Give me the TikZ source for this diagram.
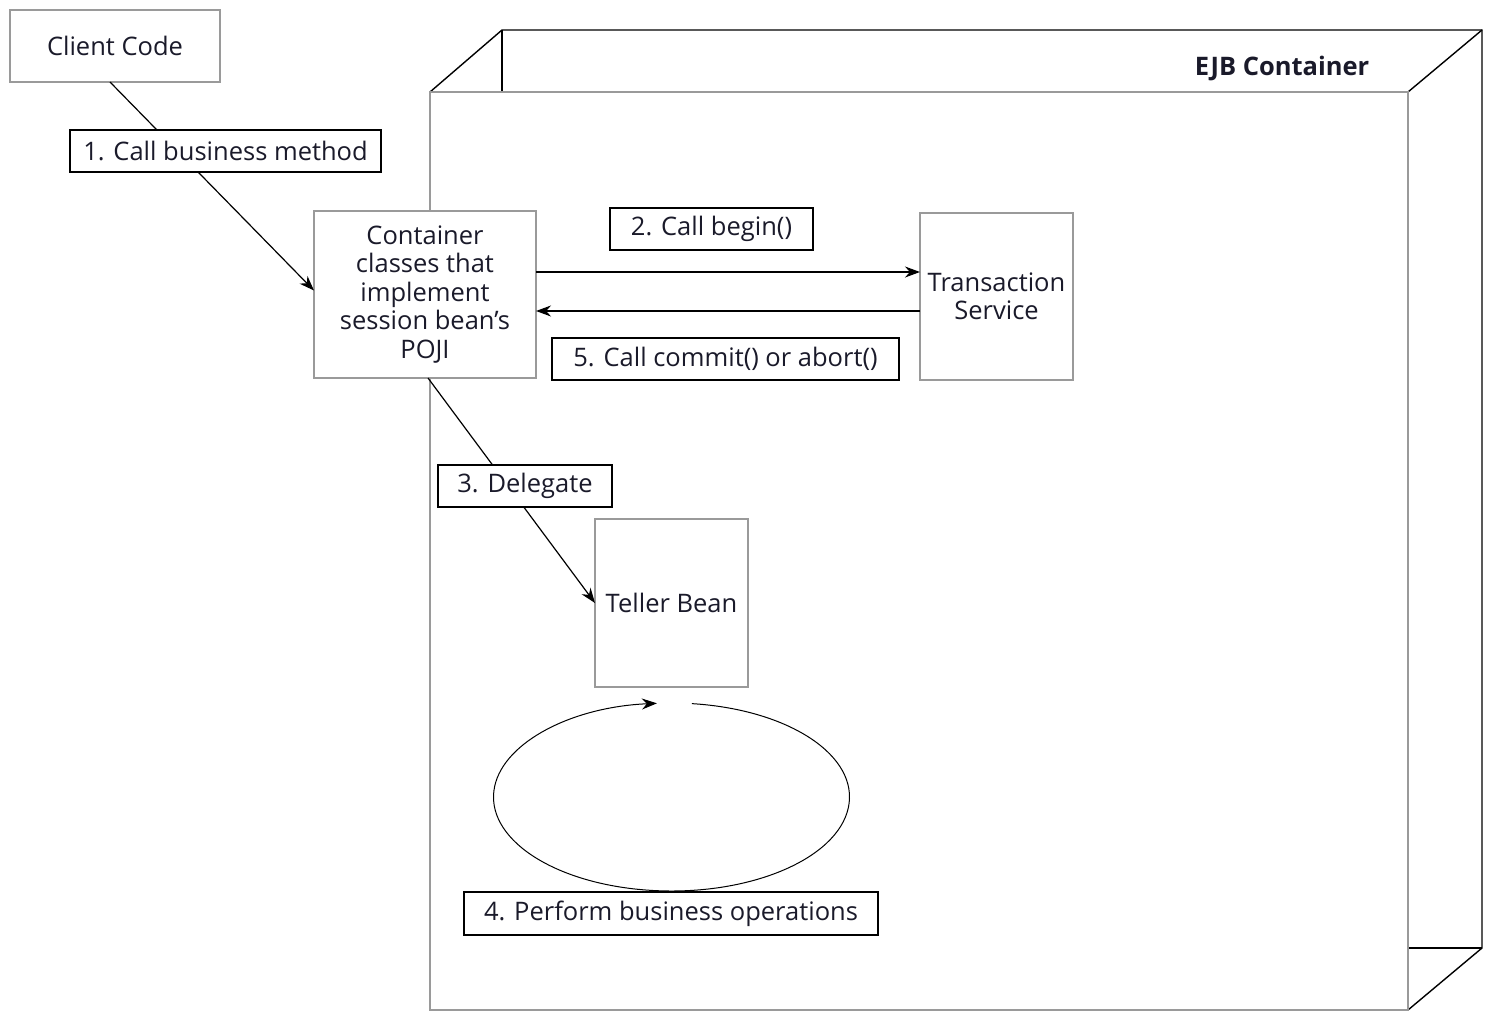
\documentclass[tikz,border=0pt]{standalone}
\usepackage{fontspec}
\setmainfont{Open Sans}
\usetikzlibrary{arrows.meta,calc}
\definecolor{boxgray}{HTML}{9A9A9A}
\definecolor{txt}{HTML}{1A1A2A}
\begin{document}
\begin{tikzpicture}[x=1pt,y=-1pt,
  every node/.style={inner sep=0pt,outer sep=0pt,text=txt,font=\fontsize{25.5}{28.5}\selectfont},
  graybox/.style={draw=boxgray,line width=2pt,fill=white,align=center},
  labelbox/.style={draw=black,line width=1.6pt,fill=white},
  conn/.style={draw=black,line width=1.2pt},
  tip/.style={-{Stealth[length=15pt,width=11pt]}},
  frontedge/.style={draw=boxgray,line width=2pt},
  backedge/.style={draw=black,line width=1.4pt}]
\useasboundingbox (0,0) rectangle (1500,1012);
\fill[white] (0,0) rectangle (1500,1012);
% EJB container cube
\coordinate (fa) at (430,92);
\coordinate (fb) at (1408,92);
\coordinate (fc) at (1408,1010);
\coordinate (fd) at (430,1010);
\coordinate (ba) at (502,30);
\coordinate (bb) at (1482,30);
\coordinate (bc) at (1482,948);
\draw[backedge] (fa) -- (ba) -- (bb) -- (bc) -- (fc);
\draw[backedge] (fb) -- (bb);
\draw[backedge] (ba) -- (ba |- fa);
\draw[backedge] (bc) -- (bc -| fb);
\draw[frontedge] (fa) -- (fb) -- (fc) -- (fd) -- cycle;
\node[font=\fontsize{25.5}{28}\selectfont\bfseries] (ejb) at (1282,68) {EJB Container};
% nodes
\node[graybox,minimum width=210pt,minimum height=72pt] (client) at (115,46) {Client Code};
\node[graybox,minimum width=222pt,minimum height=167pt] (cont) at (425,294.5) {Container\\classes that\\implement\\session bean’s\\POJI};
\node[graybox,minimum width=153pt,minimum height=167pt] (ts) at (996.5,296.5) {Transaction\\Service};
\node[graybox,minimum width=153pt,minimum height=168pt] (teller) at (671.5,603) {Teller Bean};
% connectors
\coordinate (c1s) at ([xshift=-5pt]client.south);
\coordinate (c1e) at ([yshift=4pt]cont.west);
\draw[conn,tip] (c1s) -- (c1e);
\coordinate (c2) at ([yshift=22.5pt]cont.east);
\draw[conn,tip] (c2) -- (c2 -| ts.west);
\coordinate (c5) at ([yshift=-14.5pt]ts.west);
\draw[conn,tip] (c5) -- (c5 -| cont.east);
\coordinate (c3s) at ([xshift=3pt]cont.south);
\draw[conn,tip] (c3s) -- (teller.west);
\coordinate (ellc) at (671.5,797);
\draw[conn,line width=1pt,tip] ($(ellc)+({178*cos(-83.4)},{94*sin(-83.4)})$) arc[start angle=-83.4,end angle=265.3,x radius=178,y radius=94];
% labels
\node[labelbox,minimum width=311pt,minimum height=42pt] (l1) at (225.5,151) {1. Call business method};
\node[labelbox,minimum width=203pt,minimum height=42pt] (l2) at (711.5,229) {2. Call begin()};
\node[labelbox,minimum width=347pt,minimum height=42pt] (l5) at (725.5,359) {5. Call commit() or abort()};
\node[labelbox,minimum width=174pt,minimum height=42pt] (l3) at (525,486) {3. Delegate};
\node[labelbox,minimum width=414pt,minimum height=43pt] (l4) at (671,913.5) {4. Perform business operations};
\end{tikzpicture}
\end{document}
